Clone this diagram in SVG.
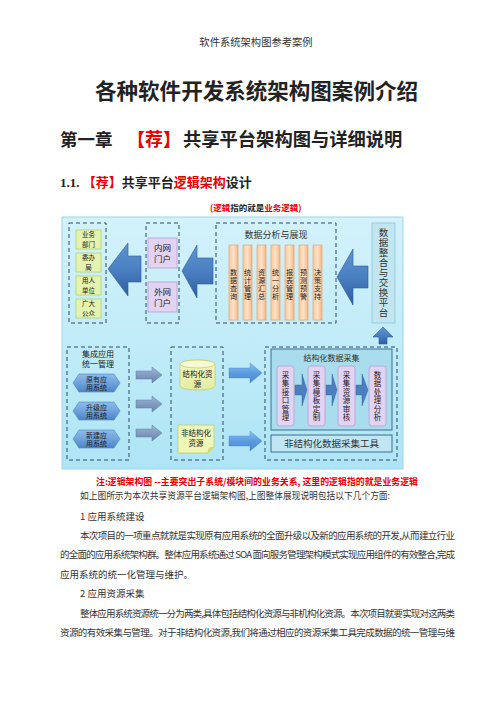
<svg xmlns="http://www.w3.org/2000/svg" width="496" height="702" viewBox="0 0 496 702">
<style>
text{font-family:"Noto Sans CJK SC","Liberation Sans",sans-serif;fill:#222}
.serif{font-family:"Liberation Serif","Noto Sans CJK SC",serif}
.red{fill:#e60000}
.dash{fill:none;stroke:#2e4a6b;stroke-width:1;stroke-dasharray:4 3}
.green{fill:#e4f3b0;stroke:#b3cf72;stroke-width:0.8}
.purple{fill:#e2d3f2;stroke:#b79fd6;stroke-width:0.8}
.bar{fill:url(#gOrange);stroke:#eea468;stroke-width:0.7}
.bigarrow{fill:url(#gBlue);stroke:#2d5c98;stroke-width:0.6}
.hex{fill:url(#gHex);stroke:#4f86c4;stroke-width:0.6}
.grayarrow{fill:url(#gGray);stroke:#5f7ea8;stroke-width:0.5}
.lbarrow{fill:url(#gLB);stroke:#4a88cc;stroke-width:0.4}
.smallarrow{fill:#4c7fbf;stroke:#2f5d98;stroke-width:0.4}
.t6{font-size:6.5px;text-anchor:middle}
.t7{font-size:7px;text-anchor:middle}
.t8{font-size:8.5px;text-anchor:middle}
.vbar{font-size:7px;writing-mode:tb;letter-spacing:1px}
.vpur{font-size:7.5px;writing-mode:tb;letter-spacing:1px}
.body{font-size:9.5px;fill:#333}
</style>
<defs>
<linearGradient id="gBg" x1="0" y1="0" x2="0" y2="1"><stop offset="0" stop-color="#d3f2fb"/><stop offset="1" stop-color="#aee5f5"/></linearGradient>
<linearGradient id="gOrange" x1="0" y1="0" x2="1" y2="0"><stop offset="0" stop-color="#fbc79b"/><stop offset="0.5" stop-color="#fde2c9"/><stop offset="1" stop-color="#fbb27c"/></linearGradient>
<linearGradient id="gBlue" x1="0" y1="0" x2="0" y2="1"><stop offset="0" stop-color="#5f94d2"/><stop offset="0.5" stop-color="#4a7fc1"/><stop offset="1" stop-color="#2e5f9f"/></linearGradient>
<linearGradient id="gHex" x1="0" y1="0" x2="0" y2="1"><stop offset="0" stop-color="#8fbbe8"/><stop offset="0.5" stop-color="#6fa3dc"/><stop offset="1" stop-color="#4c83c6"/></linearGradient>
<linearGradient id="gGray" x1="0" y1="0" x2="0" y2="1"><stop offset="0" stop-color="#9fb5d2"/><stop offset="1" stop-color="#6683ab"/></linearGradient>
<linearGradient id="gLB" x1="0" y1="0" x2="0" y2="1"><stop offset="0" stop-color="#8cc0f0"/><stop offset="0.5" stop-color="#5a9be0"/><stop offset="1" stop-color="#4a88d0"/></linearGradient>
<linearGradient id="gCyl" x1="0" y1="0" x2="0" y2="1"><stop offset="0" stop-color="#f4f8c8"/><stop offset="1" stop-color="#e3eea0"/></linearGradient>
</defs>

<!-- page text -->
<text x="256" y="46" style="font-size:10.3px;text-anchor:middle;fill:#333">软件系统架构图参考案例</text>
<text x="95" y="99" style="font-size:21.5px;font-weight:bold" textLength="323" lengthAdjust="spacingAndGlyphs">各种软件开发系统架构图案例介绍</text>
<text x="60" y="146" style="font-size:17.5px;font-weight:bold">第一章</text>
<text x="127" y="146" class="red" style="font-size:18px;font-weight:bold">【荐】</text>
<text x="183" y="146" style="font-size:18.3px;font-weight:bold">共享平台架构图与详细说明</text>
<text x="60" y="187" style="font-size:13px;font-weight:bold"><tspan class="serif">1.1. </tspan><tspan class="red">【荐】</tspan><tspan>共享平台</tspan><tspan class="red">逻辑架构</tspan><tspan>设计</tspan></text>
<text x="210" y="211" style="font-size:8.5px;font-weight:bold"><tspan class="red">(逻辑</tspan><tspan>指的就是</tspan><tspan class="red">业务逻辑)</tspan></text>

<!-- diagram background -->
<g id="diagram-bg">
<rect x="62" y="217" width="341" height="252" fill="url(#gBg)" stroke="#9ed6e8" stroke-width="1"/>
</g>

<!-- top row -->
<g id="users">
<rect class="dash" x="69" y="223" width="37" height="100"/>
<rect class="green" x="76" y="230" width="25" height="19"/>
<text class="t6"><tspan x="88.5" y="237.3">业务</tspan><tspan x="88.5" y="246.7">部门</tspan></text>
<rect class="green" x="76" y="253" width="25" height="19"/>
<text class="t6"><tspan x="88.5" y="260.3">委办</tspan><tspan x="88.5" y="269.7">局</tspan></text>
<rect class="green" x="76" y="276" width="25" height="19"/>
<text class="t6"><tspan x="88.5" y="283.3">用人</tspan><tspan x="88.5" y="292.7">单位</tspan></text>
<rect class="green" x="76" y="299" width="25" height="19"/>
<text class="t6"><tspan x="88.5" y="306.3">广大</tspan><tspan x="88.5" y="315.7">公众</tspan></text>
</g>

<g id="portals">
<rect class="dash" x="146" y="223" width="33" height="100"/>
<rect class="purple" x="148" y="238" width="29" height="30"/>
<text class="t8"><tspan x="162.5" y="251">内网</tspan><tspan x="162.5" y="261.5">门户</tspan></text>
<rect class="purple" x="148" y="282" width="29" height="30"/>
<text class="t8"><tspan x="162.5" y="295">外网</tspan><tspan x="162.5" y="305.5">门户</tspan></text>
</g>

<g id="analysis">
<rect class="dash" x="216" y="223" width="120" height="100"/>
<text x="276" y="237.5" style="font-size:9px;text-anchor:middle;fill:#333">数据分析与展现</text>
<rect class="bar" x="229" y="245" width="9" height="75"/>
<rect class="bar" x="243" y="245" width="9" height="75"/>
<rect class="bar" x="257" y="245" width="9" height="75"/>
<rect class="bar" x="271" y="245" width="9" height="75"/>
<rect class="bar" x="285" y="245" width="9" height="75"/>
<rect class="bar" x="299" y="245" width="9" height="75"/>
<rect class="bar" x="313" y="245" width="9" height="75"/>
<text class="vbar" x="233.5" y="268.5">数据查询</text>
<text class="vbar" x="247.5" y="268.5">统计管理</text>
<text class="vbar" x="261.5" y="268.5">资源汇总</text>
<text class="vbar" x="275.5" y="268.5">统一分析</text>
<text class="vbar" x="289.5" y="268.5">报表管理</text>
<text class="vbar" x="303.5" y="268.5">预测预警</text>
<text class="vbar" x="317.5" y="268.5">决策支持</text>
</g>

<g id="exchange">
<rect x="372" y="223" width="23" height="100" fill="#c2e5ef" stroke="#8fc6d8" stroke-width="0.8"/>
<text x="383.5" y="227.5" style="font-size:9.5px;writing-mode:tb;letter-spacing:0.5px;fill:#333">数据整合与交换平台</text>
</g>

<!-- bottom row -->
<g id="apps">
<rect class="dash" x="67" y="347" width="62" height="113"/>
<text class="t8" style="font-size:8px"><tspan x="98" y="357">集成应用</tspan><tspan x="98" y="367">统一管理</tspan></text>
<polygon class="hex" points="73,383 79,374 114,374 120,383 114,392 79,392"/>
<text class="t7"><tspan x="96.5" y="381.5">原有应</tspan><tspan x="96.5" y="390">用系统</tspan></text>
<polygon class="hex" points="73,411 79,402 114,402 120,411 114,420 79,420"/>
<text class="t7"><tspan x="96.5" y="409.5">升级应</tspan><tspan x="96.5" y="418">用系统</tspan></text>
<polygon class="hex" points="73,439 79,430 114,430 120,439 114,448 79,448"/>
<text class="t7"><tspan x="96.5" y="437.5">新建应</tspan><tspan x="96.5" y="446">用系统</tspan></text>
</g>

<g id="resources">
<rect class="dash" x="171" y="347" width="52" height="113"/>
<path d="M180,364 L180,386 A17.5,4 0 0 0 215,386 L215,364 A17.5,4 0 0 0 180,364 Z" fill="url(#gCyl)" stroke="#c2cd6e" stroke-width="0.8"/>
<ellipse cx="197.5" cy="364" rx="17.5" ry="4" fill="#f6f9d2" stroke="#c2cd6e" stroke-width="0.8"/>
<text class="t7" style="font-size:7.5px"><tspan x="197.5" y="377">结构化资</tspan><tspan x="197.5" y="386.5">源</tspan></text>
<path d="M178,425 L214,425 L214,447 L208,453 L178,453 Z" fill="#eef6b8" stroke="#c2cd6e" stroke-width="0.8"/>
<path d="M214,447 L209,448 L208,453 Z" fill="#d4df86" stroke="#c2cd6e" stroke-width="0.6"/>
<text class="t7" style="font-size:7.5px"><tspan x="196" y="436">非结构化</tspan><tspan x="196" y="446">资源</tspan></text>
</g>

<g id="collection">
<rect class="dash" x="265" y="347" width="132" height="113"/>
<rect x="271" y="349" width="121" height="81" fill="#a9dcec" stroke="#3d6f8f" stroke-width="1"/>
<text x="331.5" y="361" style="font-size:8px;text-anchor:middle;fill:#333">结构化数据采集</text>
<rect class="purple" x="277" y="366" width="17" height="60" rx="3"/>
<rect class="purple" x="308" y="366" width="17" height="60" rx="3"/>
<rect class="purple" x="338" y="366" width="17" height="60" rx="3"/>
<rect class="purple" x="369" y="366" width="17" height="60" rx="3"/>
<text class="vpur" x="285.5" y="371">采集接口管理</text>
<text class="vpur" x="316.5" y="371">采集模板定制</text>
<text class="vpur" x="346.5" y="371">采集资源审核</text>
<text class="vpur" x="377.5" y="371">数据处理分析</text>
<rect x="271" y="435" width="121" height="17" fill="#bfe6f2" stroke="#3d6f8f" stroke-width="1"/>
<text x="331.5" y="447" style="font-size:9.5px;text-anchor:middle;fill:#333">非结构化数据采集工具</text>
</g>

<!-- connectors -->
<g id="connectors">
<polygon class="bigarrow" points="108,269 128,243 128,256 141,256 141,282 128,282 128,296"/>
<polygon class="bigarrow" points="182,271 197,245 197,258 213,258 213,284 197,284 197,298"/>
<polygon class="bigarrow" points="337,277 353,249 353,266 368,266 368,288 353,288 353,305"/>
<polygon class="bigarrow" points="383,327 393,337 387,337 387,344 379,344 379,337 373,337"/>
<polygon class="grayarrow" points="136,371 152,371 152,367 162,375 152,383 152,379 136,379"/>
<polygon class="grayarrow" points="136,400 152,400 152,396 162,404 152,412 152,408 136,408"/>
<polygon class="grayarrow" points="136,429 152,429 152,425 162,433 152,441 152,437 136,437"/>
<polygon class="lbarrow" points="229,368 250,368 250,363 262,373 250,383 250,378 229,378"/>
<polygon class="lbarrow" points="229,436 250,436 250,431 262,441 250,451 250,446 229,446"/>
<polygon class="smallarrow" points="295,385 302,385 302,374 307,390 302,406 302,395 295,395"/>
<polygon class="smallarrow" points="326,385 332,385 332,374 337,390 332,406 332,395 326,395"/>
<polygon class="smallarrow" points="356,385 362,385 362,374 368,390 362,406 362,395 356,395"/>
</g>

<!-- caption and body -->
<text x="96" y="485" class="red" style="font-size:9px;font-weight:bold" textLength="322" lengthAdjust="spacingAndGlyphs">注:逻辑架构图 --主要突出子系统/模块间的业务关系, 这里的逻辑指的就是业务逻辑</text>
<text x="80" y="499" class="body" textLength="310" lengthAdjust="spacingAndGlyphs">如上图所示为本次共享资源平台逻辑架构图,上图整体展现说明包括以下几个方面:</text>
<text x="80" y="520" class="body">1 应用系统建设</text>
<text x="80" y="539" class="body" textLength="375" lengthAdjust="spacing">本次项目的一项重点就就是实现原有应用系统的全面升级以及新的应用系统的开发,从而建立行业</text>
<text x="60" y="558" class="body" textLength="395" lengthAdjust="spacing">的全面的应用系统架构群。整体应用系统通过 SOA 面向服务管理架构模式实现应用组件的有效整合,完成</text>
<text x="60" y="578" class="body">应用系统的统一化管理与维护。</text>
<text x="80" y="597" class="body">2 应用资源采集</text>
<text x="80" y="617" class="body" textLength="375" lengthAdjust="spacing">整体应用系统资源统一分为两类,具体包括结构化资源与非机构化资源。本次项目就要实现对这两类</text>
<text x="60" y="636" class="body" textLength="395" lengthAdjust="spacing">资源的有效采集与管理。对于非结构化资源,我们将通过相应的资源采集工具完成数据的统一管理与维</text>
</svg>
